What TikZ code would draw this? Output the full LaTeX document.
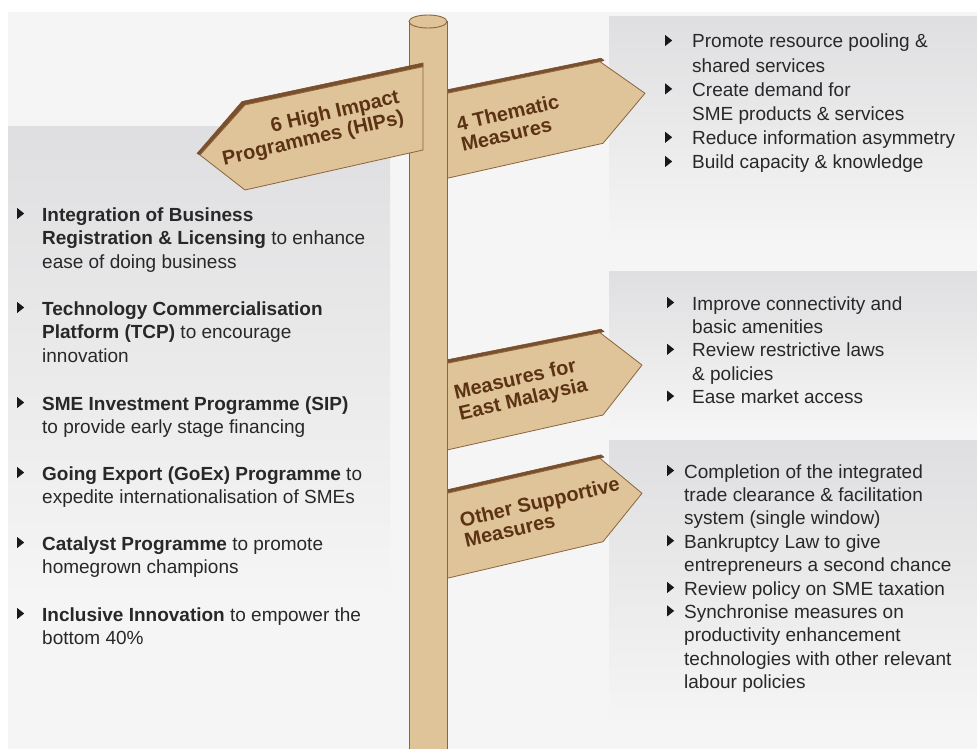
\documentclass[tikz,border=0pt]{standalone}
\usepackage{fontspec}
\setmainfont{Liberation Sans}

\definecolor{posttan}{RGB}{222,196,152}
\definecolor{postline}{RGB}{140,100,62}
\definecolor{boardtop}{RGB}{122,80,44}
\definecolor{boardtext}{RGB}{92,50,20}
\definecolor{panelgrey}{RGB}{223,223,225}
\definecolor{pagegrey}{RGB}{245,245,245}
\definecolor{listtext}{RGB}{40,40,40}

% small black pointer used in front of every list entry
\newcommand\bul{\tikz[baseline=0pt]\fill[black!90] (0pt,2pt) -- (0pt,13pt) -- (7pt,7.5pt) -- cycle;}

\tikzset{
  board/.style={fill=posttan, draw=postline, line width=0.8pt, line join=round},
  boardedge/.style={fill=boardtop, draw=boardtop, line width=0.6pt, line join=round},
  boardlabel/.style={text=boardtext, font=\bfseries\fontsize{20}{21}\selectfont, rotate=13, inner sep=0pt},
  panel/.style={top color=panelgrey, middle color=panelgrey, bottom color=pagegrey},
  listitem/.style={anchor=base west, inner sep=0pt, text=listtext, font=\fontsize{19}{23.5}\selectfont},
  listright/.style={listitem, font=\fontsize{19}{23.4}\selectfont}
}

\begin{document}
\begin{tikzpicture}[x=1pt, y=-1pt]
\useasboundingbox (0,0) rectangle (977,749);
\fill[white] (0,0) rectangle (977,749);
\fill[pagegrey] (8,12) rectangle (977,749);

% grey panels behind the lists
\shade[panel] (8,127) rectangle (390,600);
\shade[panel] (609,17) rectangle (977,245);
\shade[panel] (609,271) rectangle (977,432);
\shade[panel] (609,440) rectangle (977,725);

% boards pointing right
\filldraw[boardedge] (447,89.8) -- (601,58.2) -- (604,60.5) -- (600,61.7) -- (447,93.3) -- cycle;
\filldraw[board] (447,93.3) -- (600,61.7) -- (645,93.3) -- (603,143.3) -- (447,178.3) -- cycle;
\filldraw[boardedge] (447,359.8) -- (601,329.2) -- (604,331.5) -- (600,332.7) -- (447,363.3) -- cycle;
\filldraw[board] (447,363.3) -- (600,332.7) -- (642,365) -- (603,415) -- (447,450) -- cycle;
\filldraw[boardedge] (447,489.8) -- (601,454.8) -- (604,457.1) -- (600,458.3) -- (447,493.3) -- cycle;
\filldraw[board] (447,493.3) -- (600,458.3) -- (642,493.3) -- (603,541.7) -- (447,578.3) -- cycle;

% the post
\fill[posttan] (409,21.5) rectangle (447,749);
\draw[postline, line width=0.9pt] (409,21.5) -- (409,749) (447,21.5) -- (447,749);
\filldraw[fill=posttan, draw=postline, line width=0.9pt] (428,21.5) ellipse [x radius=19, y radius=6.5];

% board pointing left, in front of the post
\filldraw[boardedge] (423,63) -- (242,101.5) -- (197,153.5) -- (200,155) -- (245,105) -- (423,66.7) -- cycle;
\filldraw[board] (423,66.7) -- (245,105) -- (200,155) -- (245,190) -- (423,150) -- cycle;

% board labels
\node[boardlabel, align=right] (hips) at (311,129) {6 High Impact\\Programmes (HIPs)};
\node[boardlabel, align=left] (themes) at (510,123) {4 Thematic\\Measures};
\node[boardlabel, align=left] (east) at (521,390) {Measures for\\East Malaysia};
\node[boardlabel, align=left] (other) at (542,512) {Other Supportive\\Measures};

% high impact programmes
\node[listitem] (hip1) at (17,221) {\begin{tabular}[t]{@{}p{25pt}@{}l@{}}
\bul & \textbf{Integration of Business}\\
 & \textbf{Registration \& Licensing} to enhance\\
 & ease of doing business
\end{tabular}};
\node[listitem] (hip2) at (17,315) {\begin{tabular}[t]{@{}p{25pt}@{}l@{}}
\bul & \textbf{Technology Commercialisation}\\
 & \textbf{Platform (TCP)} to encourage\\
 & innovation
\end{tabular}};
\node[listitem] (hip3) at (17,410) {\begin{tabular}[t]{@{}p{25pt}@{}l@{}}
\bul & \textbf{SME Investment Programme (SIP)}\\
 & to provide early stage financing
\end{tabular}};
\node[listitem] (hip4) at (17,480) {\begin{tabular}[t]{@{}p{25pt}@{}l@{}}
\bul & \textbf{Going Export (GoEx) Programme} to\\
 & expedite internationalisation of SMEs
\end{tabular}};
\node[listitem] (hip5) at (17,550) {\begin{tabular}[t]{@{}p{25pt}@{}l@{}}
\bul & \textbf{Catalyst Programme} to promote\\
 & homegrown champions
\end{tabular}};
\node[listitem] (hip6) at (17,621) {\begin{tabular}[t]{@{}p{25pt}@{}l@{}}
\bul & \textbf{Inclusive Innovation} to empower the\\
 & bottom 40\%
\end{tabular}};

% thematic measures
\node[listitem, font=\fontsize{19}{24.2}\selectfont] (themelist) at (665,48) {\begin{tabular}[t]{@{}p{27pt}@{}l@{}}
\bul & Promote resource pooling \&\\
 & shared services\\
\bul & Create demand for\\
 & SME products \& services\\
\bul & Reduce information asymmetry\\
\bul & Build capacity \& knowledge
\end{tabular}};

% east malaysia
\node[listright] (eastlist) at (667,310) {\begin{tabular}[t]{@{}p{25pt}@{}l@{}}
\bul & Improve connectivity and\\
 & basic amenities\\
\bul & Review restrictive laws\\
 & \& policies\\
\bul & Ease market access
\end{tabular}};

% other supportive measures
\node[listright] (otherlist) at (667,478) {\begin{tabular}[t]{@{}p{17pt}@{}l@{}}
\bul & Completion of the integrated\\
 & trade clearance \& facilitation\\
 & system (single window)\\
\bul & Bankruptcy Law to give\\
 & entrepreneurs a second chance\\
\bul & Review policy on SME taxation\\
\bul & Synchronise measures on\\
 & productivity enhancement\\
 & technologies with other relevant\\
 & labour policies
\end{tabular}};
\end{tikzpicture}
\end{document}
